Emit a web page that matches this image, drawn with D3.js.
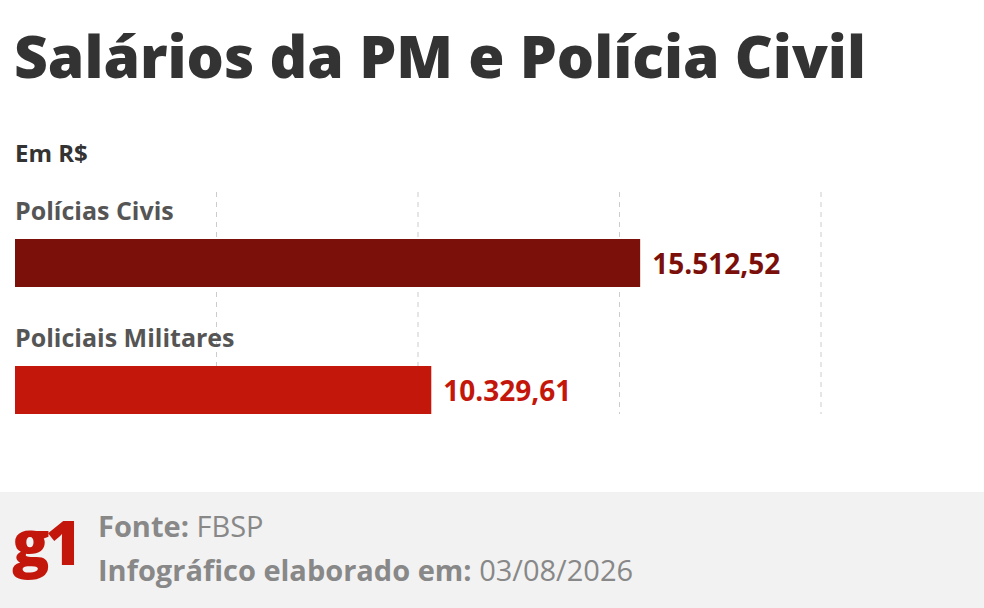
<!DOCTYPE html>
<html><head><meta charset="utf-8">
<script src="https://cdn.jsdelivr.net/npm/d3@7"></script>
<style>body{margin:0;background:#fff}svg{display:block;font-family:"Open Sans",sans-serif}</style>
</head><body><svg id="c" width="984" height="608"></svg>
<script>
const categories = ["Polícias Civis", "Policiais Militares"];
const values = [15512.52, 10329.61];
const valueLabels = ["15.512,52", "10.329,61"];
const colors = ["#7b0f0a", "#c4170c"];
const gridTicks = [5000, 10000, 15000, 20000];

const svg = d3.select("#c");
const x = d3.scaleLinear().domain([0, 20000]).range([15, 821]);
const y = d3.scaleBand().domain(categories).range([190, 444]).paddingInner(0);

svg.append("text").attr("x", 14).attr("y", 78).text("Salários da PM e Polícia Civil")
  .attr("font-size", 58.7).attr("font-weight", 800).attr("fill", "#333");
svg.append("text").attr("x", 15).attr("y", 162).text("Em R$")
  .attr("font-size", 24).attr("font-weight", 700).attr("fill", "#333");

svg.selectAll(".grid").data(gridTicks).join("line")
  .attr("x1", d => x(d)).attr("x2", d => x(d)).attr("y1", 192).attr("y2", 414)
  .attr("stroke", "#ccc").attr("stroke-dasharray", "5,5");

const g = svg.selectAll(".row").data(categories).join("g")
  .attr("transform", d => `translate(0,${y(d)})`);
g.append("text").attr("x", 15).attr("y", 30).text(d => d)
  .attr("font-size", 25).attr("font-weight", 700).attr("fill", "#555");
g.append("rect").attr("x", x(0)).attr("y", 49).attr("height", 48)
  .attr("width", (d, i) => x(values[i]) - x(0)).attr("fill", (d, i) => colors[i]);
g.append("text").attr("x", (d, i) => x(values[i]) + 12).attr("y", 84)
  .text((d, i) => valueLabels[i]).attr("font-size", 28).attr("font-weight", 700)
  .attr("fill", (d, i) => colors[i]);

svg.append("rect").attr("x", 0).attr("y", 492).attr("width", 984).attr("height", 116).attr("fill", "#f2f2f2");
svg.append("text").attr("x", 12).attr("y", 565).text("g1").attr("font-size", 62)
  .attr("font-weight", 800).attr("fill", "#c4170c").attr("letter-spacing", -4);
const f1 = svg.append("text").attr("x", 98).attr("y", 537).attr("font-size", 29).attr("fill", "#888");
f1.append("tspan").attr("font-weight", 700).text("Fonte: ");
f1.append("tspan").text("FBSP");
const f2 = svg.append("text").attr("x", 98).attr("y", 581).attr("font-size", 29).attr("fill", "#888");
f2.append("tspan").attr("font-weight", 700).text("Infográfico elaborado em: ");
f2.append("tspan").text("03/08/2026");
</script></body></html>
